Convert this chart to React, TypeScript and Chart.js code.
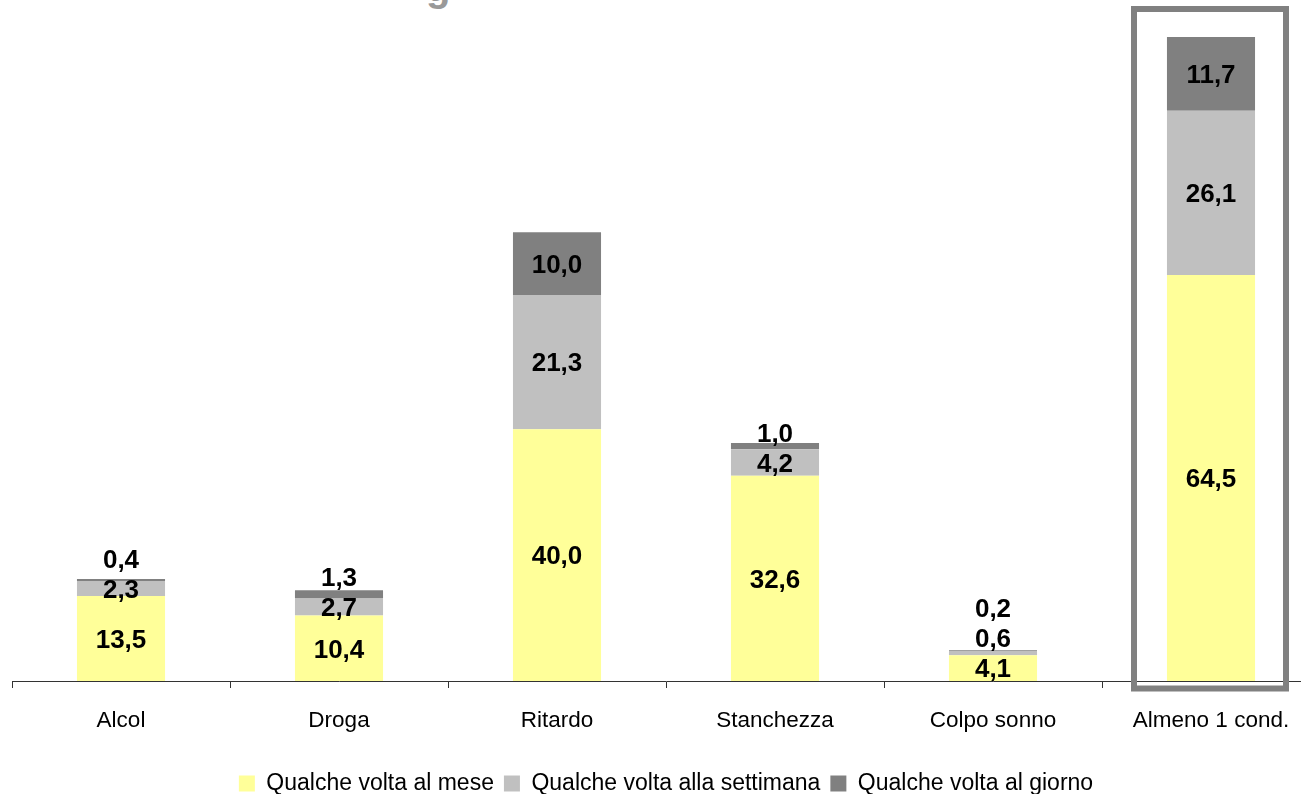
import React, { useEffect, useRef } from 'react';
import { Chart, registerables } from 'chart.js';

Chart.register(...registerables);

const categories = ['Alcol', 'Droga', 'Ritardo', 'Stanchezza', 'Colpo sonno', 'Almeno 1 cond.'];
const seriesNames = ['Qualche volta al mese', 'Qualche volta alla settimana', 'Qualche volta al giorno'];
const monthly = [13.5, 10.4, 40.0, 32.6, 4.1, 64.5];
const weekly = [2.3, 2.7, 21.3, 4.2, 0.6, 26.1];
const daily = [0.4, 1.3, 10.0, 1.0, 0.2, 11.7];
const seriesColors = ['#FFFF99', '#C0C0C0', '#808080'];
const highlightedIndex = 5;

const FONT = "'Liberation Sans', Arial, sans-serif";
const LABEL_SIZE = 26;

const fmt = (v: number) => v.toFixed(1).replace('.', ',');

const labelPlugin = {
  id: 'stackLabels',
  afterDatasetsDraw(chart: any) {
    const ctx = chart.ctx;
    ctx.save();
    ctx.font = `bold ${LABEL_SIZE}px ${FONT}`;
    ctx.fillStyle = '#000';
    ctx.textAlign = 'center';
    ctx.textBaseline = 'alphabetic';
    const capHalf = LABEL_SIZE * 0.716 / 2;
    const n = chart.data.labels.length;
    for (let j = 0; j < n; j++) {
      let prevY = Infinity;
      chart.data.datasets.forEach((ds: any, i: number) => {
        const el = chart.getDatasetMeta(i).data[j];
        const center = (el.y + el.base) / 2;
        const y = Math.min(center, prevY - 30);
        ctx.fillText(fmt(ds.data[j]), el.x, y + capHalf);
        prevY = y;
      });
    }
    ctx.restore();
  },
};

const highlightPlugin = {
  id: 'highlightBox',
  afterDraw(chart: any) {
    const ctx = chart.ctx;
    const xs = chart.scales.x;
    const cx = xs.getPixelForValue(highlightedIndex);
    ctx.save();
    ctx.strokeStyle = '#808080';
    ctx.lineWidth = 6;
    const top = chart.chartArea.top - 11;
    const bottom = xs.top + 7.5;
    ctx.strokeRect(cx - 77, top, 152, bottom - top);
    ctx.restore();
  },
};

export default function App() {
  const ref = useRef<HTMLCanvasElement | null>(null);
  useEffect(() => {
    if (!ref.current) return;
    const chart = new Chart(ref.current, {
      type: 'bar',
      data: {
        labels: categories,
        datasets: [monthly, weekly, daily].map((d, i) => ({
          label: seriesNames[i],
          data: d,
          backgroundColor: seriesColors[i],
          borderWidth: 0,
          categoryPercentage: 1,
          barPercentage: 0.404,
        })),
      },
      options: {
        responsive: false,
        animation: false,
        devicePixelRatio: 1,
        layout: { padding: { top: 20, left: 12, right: 20, bottom: 0 } },
        scales: {
          x: {
            stacked: true,
            grid: { drawOnChartArea: false, drawTicks: true, tickLength: 7, color: '#333', offset: true },
            border: { display: true, color: '#333', width: 1 },
            ticks: { color: '#000', font: { family: FONT, size: 22.5 }, padding: 19, maxRotation: 0 },
            afterFit: (scale: any) => {
              scale.height += 9;
            },
          },
          y: {
            stacked: true,
            display: false,
            min: 0,
            max: 105,
          },
        },
        plugins: {
          legend: {
            position: 'bottom',
            labels: {
              color: '#000',
              boxWidth: 16,
              boxHeight: 16,
              padding: 10,
              font: { family: FONT, size: 23 },
            },
          },
          tooltip: { enabled: false },
          title: { display: false },
        },
      },
      plugins: [labelPlugin, highlightPlugin],
    });
    return () => chart.destroy();
  }, []);

  return (
    <div style={{ position: 'fixed', left: 0, top: 0, width: 1301, height: 794, overflow: 'hidden', background: '#fff' }}>
      <div
        style={{
          position: 'absolute',
          left: 426,
          top: -33,
          fontFamily: FONT,
          fontWeight: 'bold',
          fontSize: 40,
          lineHeight: '40px',
          color: '#999999',
        }}
      >
        g
      </div>
      <canvas ref={ref} width={1340} height={805} style={{ position: 'absolute', left: 0, top: 0, width: 1340, height: 805 }} />
    </div>
  );
}
